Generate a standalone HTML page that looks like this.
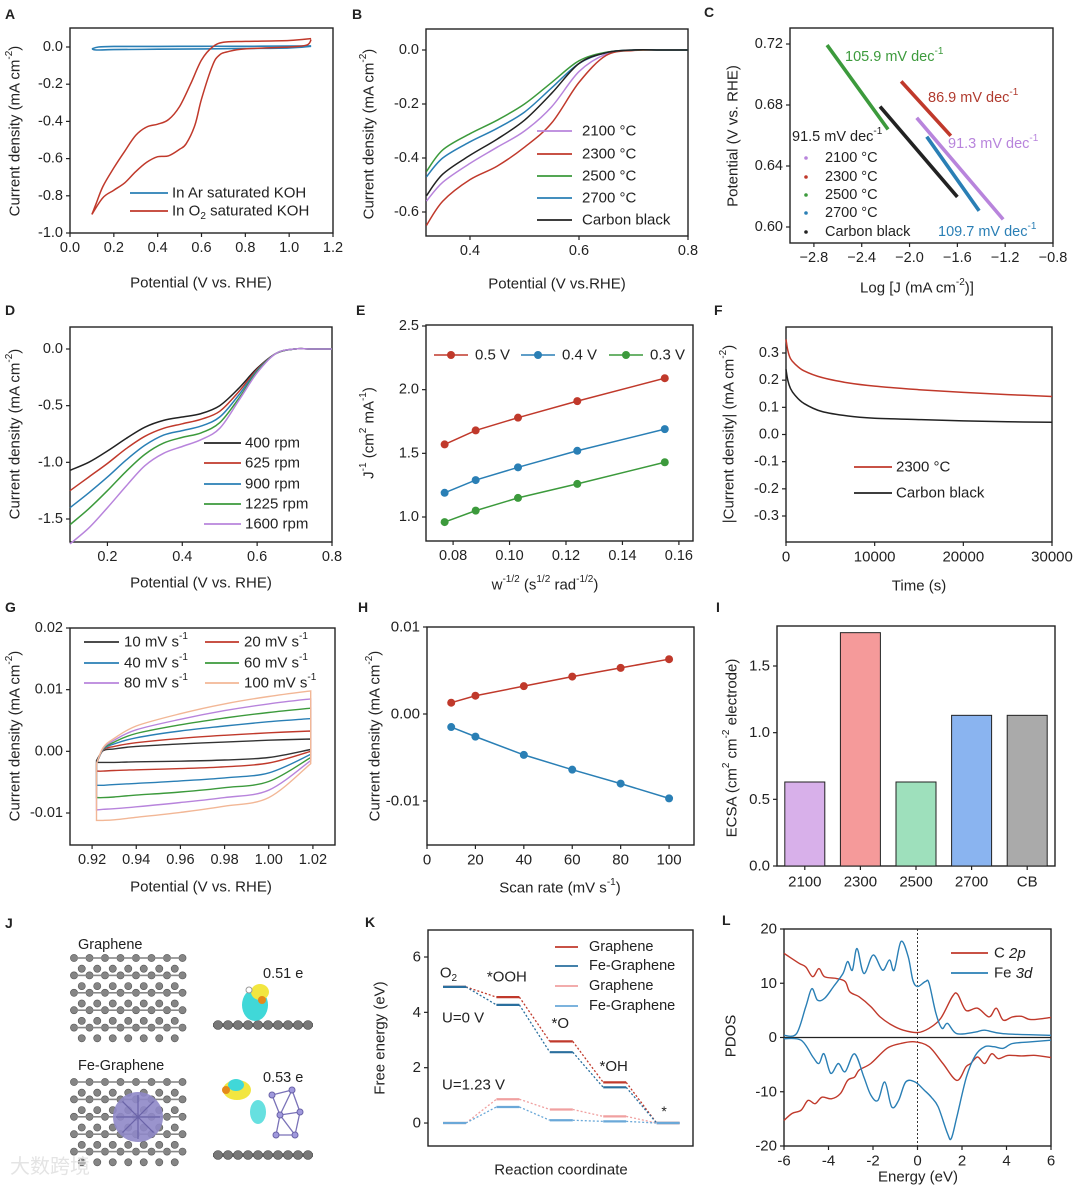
<!DOCTYPE html>
<html><head><meta charset="utf-8"><title>Electrocatalysis figure A-L</title>
<style>
html,body{margin:0;padding:0;background:#fff;}
svg{display:block;font-family:"Liberation Sans","Noto Sans CJK SC",sans-serif;}
</style></head>
<body>
<svg id="fig" width="1080" height="1189" viewBox="0 0 1080 1189" xmlns="http://www.w3.org/2000/svg"></svg>
<script>
// ---------------- DATA ----------------
// A
const A_ar_up_x=[0.1,0.13,0.2,0.4,0.6,0.8,1.0,1.1];
const A_ar_up_y=[-0.01,0.0,0.003,0.003,0.004,0.004,0.005,0.006];
const A_ar_dn_x=[1.1,1.0,0.8,0.6,0.4,0.2,0.12,0.1];
const A_ar_dn_y=[0.004,-0.005,-0.008,-0.01,-0.012,-0.014,-0.016,-0.01];
const A_o2_an_x=[0.1,0.12,0.15,0.2,0.25,0.3,0.35,0.4,0.45,0.5,0.55,0.6,0.65,0.7,0.8,1.0,1.1];
const A_o2_an_y=[-0.9,-0.84,-0.75,-0.65,-0.56,-0.475,-0.43,-0.415,-0.39,-0.32,-0.2,-0.07,0.0,0.025,0.03,0.035,0.045];
const A_o2_ca_x=[1.1,1.08,1.0,0.8,0.72,0.68,0.65,0.6,0.57,0.53,0.5,0.45,0.4,0.35,0.3,0.25,0.2,0.15,0.1];
const A_o2_ca_y=[0.04,0.01,0.0,-0.01,-0.025,-0.045,-0.1,-0.28,-0.42,-0.52,-0.55,-0.585,-0.59,-0.62,-0.67,-0.73,-0.77,-0.81,-0.9];
// B
const B_x=[0.32,0.35,0.4,0.45,0.5,0.55,0.6,0.65,0.7,0.75,0.8];
const B_2100=[-0.56,-0.49,-0.42,-0.36,-0.30,-0.21,-0.08,-0.015,0,0,0];
const B_2300=[-0.65,-0.56,-0.48,-0.43,-0.36,-0.27,-0.12,-0.02,-0.002,0,0];
const B_2500=[-0.45,-0.37,-0.31,-0.26,-0.20,-0.12,-0.04,-0.008,0,0,0];
const B_2700=[-0.47,-0.40,-0.34,-0.29,-0.23,-0.14,-0.05,-0.01,0,0,0];
const B_cb=[-0.54,-0.46,-0.39,-0.33,-0.26,-0.16,-0.05,-0.01,0,0,0];
const B_labels=["2100 °C","2300 °C","2500 °C","2700 °C","Carbon black"];
// C  (start/end of Tafel segments)
const C_x1=[-1.94,-2.07,-2.69,-1.856,-2.247];
const C_y1=[0.6716,0.6955,0.7193,0.6592,0.6790];
const C_x2=[-1.217,-1.655,-2.18,-1.418,-1.60];
const C_y2=[0.6050,0.6598,0.6640,0.6106,0.6197];
const C_slopes=["91.3","86.9","105.9","109.7","91.5"];
// D
const D_x=[0.1,0.15,0.2,0.25,0.3,0.35,0.4,0.45,0.5,0.55,0.6,0.65,0.7,0.75,0.8];
const D_400=[-1.07,-1.0,-0.9,-0.79,-0.69,-0.63,-0.6,-0.57,-0.5,-0.35,-0.17,-0.04,0,0,0];
const D_625=[-1.25,-1.13,-1.01,-0.88,-0.77,-0.7,-0.66,-0.62,-0.55,-0.38,-0.18,-0.04,0,0,0];
const D_900=[-1.40,-1.27,-1.13,-0.98,-0.85,-0.76,-0.72,-0.68,-0.6,-0.41,-0.19,-0.04,0,0,0];
const D_1225=[-1.55,-1.41,-1.25,-1.08,-0.93,-0.83,-0.78,-0.74,-0.65,-0.44,-0.2,-0.04,0,0,0];
const D_1600=[-1.72,-1.58,-1.40,-1.21,-1.03,-0.92,-0.86,-0.80,-0.7,-0.46,-0.21,-0.04,0,0,0];
const D_labels=["400 rpm","625 rpm","900 rpm","1225 rpm","1600 rpm"];
// E
const E_x=[0.077,0.088,0.103,0.124,0.155];
const E_05=[1.57,1.68,1.78,1.91,2.09];
const E_04=[1.19,1.29,1.39,1.52,1.69];
const E_03=[0.96,1.05,1.15,1.26,1.43];
// F
const F_t=[0,200,500,1000,2000,4000,7000,10000,15000,20000,25000,30000];
const F_2300=[0.35,0.31,0.28,0.26,0.235,0.21,0.19,0.178,0.165,0.155,0.147,0.14];
const F_cb=[0.24,0.2,0.17,0.145,0.115,0.085,0.068,0.06,0.055,0.05,0.047,0.045];
// G
const G_x=[0.922,0.925,0.93,0.94,0.96,0.98,1.00,1.019];
const G_up10=[-0.0015,0.0001,0.0004,0.0008,0.0012,0.0015,0.0018,0.0020];
const G_lo10=[-0.0018,-0.0018,-0.0018,-0.0017,-0.0016,-0.0014,-0.0010,0.0003];
const G_up20=[-0.0020,0.0002,0.0008,0.0014,0.0021,0.0026,0.0030,0.0033];
const G_lo20=[-0.0032,-0.0032,-0.0031,-0.0030,-0.0028,-0.0025,-0.0019,0.0000];
const G_up40=[-0.0020,0.0003,0.0012,0.0022,0.0033,0.0041,0.0048,0.0053];
const G_lo40=[-0.0055,-0.0055,-0.0054,-0.0052,-0.0048,-0.0043,-0.0035,-0.0005];
const G_up60=[-0.0020,0.0004,0.0015,0.0029,0.0043,0.0054,0.0063,0.0070];
const G_lo60=[-0.0075,-0.0075,-0.0074,-0.0071,-0.0066,-0.0059,-0.0049,-0.0010];
const G_up80=[-0.0020,0.0005,0.0018,0.0035,0.0052,0.0066,0.0077,0.0085];
const G_lo80=[-0.0095,-0.0094,-0.0093,-0.0090,-0.0083,-0.0075,-0.0063,-0.0015];
const G_up100=[-0.0020,0.0006,0.0021,0.0041,0.0061,0.0077,0.0089,0.0098];
const G_lo100=[-0.0112,-0.0112,-0.0111,-0.0107,-0.0099,-0.0089,-0.0075,-0.0020];
const G_labels=["10","20","40","60","80","100"];
// H
const H_x=[10,20,40,60,80,100];
const H_anodic=[0.0013,0.0021,0.0032,0.0043,0.0053,0.0063];
const H_cathodic=[-0.0015,-0.0026,-0.0047,-0.0064,-0.0080,-0.0097];
// I
const I_cats=["2100","2300","2500","2700","CB"];
const I_vals=[0.63,1.75,0.63,1.13,1.13];
// K
const K_steps=["O2","*OOH","*O","*OH","*"];
const K_gr_0=[4.92,4.55,2.95,1.47,0];
const K_fe_0=[4.92,4.27,2.56,1.29,0];
const K_gr_123=[0,0.86,0.49,0.24,0];
const K_fe_123=[0,0.58,0.10,0.06,0];
// L
const L_c_up_x=[-6,-5.33,-5.02,-4.71,-4.43,-4.18,-3.66,-3.25,-3.04,-2.62,-2.10,-1.68,-1.16,-0.64,0,0.52,1.04,1.56,1.80,2.18,2.70,3.22,3.54,3.85,4.27,4.68,5.10,6];
const L_c_up_y=[15.5,13.7,13,11.2,12.7,11.2,10.9,10.3,8.4,7.5,5.7,3.8,2.3,1.35,0.9,1.7,3.5,7.5,8,5,5.4,3.8,5.4,3.2,3.8,3.9,3.3,3.7];
const L_fe_up_x=[-6,-5.44,-5.02,-4.75,-4.50,-4.18,-3.77,-3.35,-3.14,-2.93,-2.72,-2.41,-1.99,-1.57,-1.26,-1.05,-0.74,-0.42,-0.21,0,0.35,0.52,0.83,1.10,1.35,1.77,2.60,3.02,3.85,6];
const L_fe_up_y=[0.4,0.7,5.7,9,6.9,7.2,9.4,11.8,14,12.4,16.4,11.8,15.2,12.4,14.3,12.4,17.7,14.9,10.6,9.4,10.3,10,4.4,1.7,2.6,0.7,1,1.35,0.7,0.4];
const L_c_dn_x=[-6,-5.64,-5.23,-4.92,-4.60,-4.29,-3.87,-3.46,-3.14,-2.83,-2.62,-2.10,-1.37,-0.75,-0.13,0.52,1.14,1.77,2.18,2.39,2.70,3.02,3.33,3.64,4.06,4.68,5.31,6];
const L_c_dn_y=[-15.3,-14,-13.4,-11.6,-12.2,-11,-11.3,-10.3,-7.9,-7.3,-6,-4.8,-2,-1.1,-0.8,-1.7,-4.8,-7.9,-5.4,-4.8,-3.6,-4.8,-3,-3.9,-3.3,-3.4,-3.3,-3.7];
const L_fe_dn_x=[-6,-5.23,-4.7,-4.43,-4.2,-3.9,-3.56,-3.25,-2.83,-2.41,-2.1,-1.78,-1.47,-1.16,-0.85,-0.53,-0.11,0.3,0.62,0.93,1.35,1.52,1.77,2.2,2.6,3.02,3.44,3.85,4.27,5.1,6];
const L_fe_dn_y=[-0.2,-0.5,-3.6,-4.8,-3,-6.6,-4.8,-6.3,-3,-7.3,-10.6,-11.6,-8.2,-12.8,-11.6,-8.2,-8.2,-9.7,-11,-12.8,-17.7,-18.6,-14.6,-7.3,-3.3,-1.7,-1.7,-2,-1.1,-0.8,-0.5];

// ---------------- HELPERS ----------------
const NS="http://www.w3.org/2000/svg";
const svg=document.getElementById('fig');
function el(tag,attrs,parent,name,inter){
  const e=document.createElementNS(NS,tag);
  for(const k in attrs) e.setAttribute(k,attrs[k]);
  
  
  (parent||svg).appendChild(e);
  return e;
}
function txt(x,y,s,opt,parent,name){
  opt=opt||{};
  const t=el('text',{x:x,y:y,'font-size':opt.fs||14.5,fill:opt.fill||'#222','text-anchor':opt.anchor||'middle','dominant-baseline':'central','font-weight':opt.fw||'normal','font-style':opt.fst||'normal'},parent,name||'label');
  if(opt.rot) t.setAttribute('transform','rotate('+opt.rot+' '+x+' '+y+')');
  t.innerHTML=s;
  return t;
}
const SUP=s=>'<tspan baseline-shift="super" font-size="10">'+s+'</tspan>';
const SUB=s=>'<tspan baseline-shift="sub" font-size="10">'+s+'</tspan>';
function panel(name,x0,x1,y0,y1,xd,yd){
  const g=el('g',{},svg,name);
  const p={g:g,x0:x0,x1:x1,y0:y0,y1:y1,
    X:v=>x0+(v-xd[0])/(xd[1]-xd[0])*(x1-x0),
    Y:v=>y1-(v-yd[0])/(yd[1]-yd[0])*(y1-y0)};
  return p;
}
// linear map helper from two reference pixels
function lin(v1,p1,v2,p2,pix){return v1+(pix-p1)*(v2-v1)/(p2-p1);}
function frame(p){
  el('rect',{x:p.x0,y:p.y0,width:p.x1-p.x0,height:p.y1-p.y0,fill:'none',stroke:'#222','stroke-width':1.4},p.g,'plot-frame');
}
function xticks(p,vals,labels,fs){
  vals.forEach((v,i)=>{
    const x=p.X(v);
    el('line',{x1:x,x2:x,y1:p.y1,y2:p.y1+4,stroke:'#222','stroke-width':1.2},p.g,'x-tick');
    txt(x,p.y1+15,labels[i],{fs:fs||14.5},p.g,'x-tick-label');
  });
}
function yticks(p,vals,labels,fs){
  vals.forEach((v,i)=>{
    const y=p.Y(v);
    el('line',{x1:p.x0-4,x2:p.x0,y1:y,y2:y,stroke:'#222','stroke-width':1.2},p.g,'y-tick');
    txt(p.x0-7,y,labels[i],{fs:fs||14.5,anchor:'end'},p.g,'y-tick-label');
  });
}
function smooth(pts){
  let d='M'+pts[0][0].toFixed(1)+','+pts[0][1].toFixed(1);
  for(let i=0;i<pts.length-1;i++){
    const p0=pts[Math.max(0,i-1)],p1=pts[i],p2=pts[i+1],p3=pts[Math.min(pts.length-1,i+2)];
    const c1=[p1[0]+(p2[0]-p0[0])/6,p1[1]+(p2[1]-p0[1])/6];
    const c2=[p2[0]-(p3[0]-p1[0])/6,p2[1]-(p3[1]-p1[1])/6];
    d+='C'+c1[0].toFixed(1)+','+c1[1].toFixed(1)+' '+c2[0].toFixed(1)+','+c2[1].toFixed(1)+' '+p2[0].toFixed(1)+','+p2[1].toFixed(1);
  }
  return d;
}
function series(p,xs,ys,color,name,w){
  const pts=xs.map((x,i)=>[p.X(x),p.Y(ys[i])]);
  return el('path',{d:smooth(pts),fill:'none',stroke:color,'stroke-width':w||1.5,'stroke-linejoin':'round'},p.g,name);
}
function legendLine(g,x1,x2,y,color,label,tx,name,fs){
  const lg=el('g',{},g,name);
  el('line',{x1:x1,x2:x2,y1:y,y2:y,stroke:color,'stroke-width':1.8},lg,'legend-swatch');
  txt(tx,y,label,{fs:fs||15,anchor:'start'},lg,'legend-text');
}
function letter(x,y,s){ txt(x,y,s,{fs:14,fw:'bold',anchor:'start'},svg,'panel-letter-'+s.toLowerCase()); }
const RED='#c0392b',BLUE='#2a7fb5',GREEN='#3c9a3c',PURP='#b884dc',BLK='#222';

// ---------------- PANEL A ----------------
letter(5,14,'A');
(function(){
  const top=28,bot=233;
  const p=panel('panel-a',70,333,top,bot,[0,1.2],[lin(0,47,-1,233,bot),lin(0,47,-1,233,top)]);
  frame(p);
  series(p,A_ar_up_x,A_ar_up_y,BLUE,'ar-cv-forward',1.6);
  series(p,A_ar_dn_x,A_ar_dn_y,BLUE,'ar-cv-reverse',1.6);
  series(p,A_o2_an_x,A_o2_an_y,RED,'o2-cv-anodic',1.5);
  series(p,A_o2_ca_x,A_o2_ca_y,RED,'o2-cv-cathodic',1.5);
  xticks(p,[0,0.2,0.4,0.6,0.8,1.0,1.2],['0.0','0.2','0.4','0.6','0.8','1.0','1.2']);
  yticks(p,[0,-0.2,-0.4,-0.6,-0.8,-1.0],['0.0','-0.2','-0.4','-0.6','-0.8','-1.0']);
  legendLine(p.g,130,168,193,BLUE,'In Ar saturated KOH',172,'legend-entry-ar');
  legendLine(p.g,130,168,211,RED,'In O'+SUB('2')+' saturated KOH',172,'legend-entry-o2');
  txt(201,283,'Potential (V vs. RHE)',{fs:15},p.g,'x-axis-title');
  txt(15,131,'Current density (mA cm'+SUP('-2')+')',{fs:15,rot:-90},p.g,'y-axis-title');
})();

// ---------------- PANEL B ----------------
letter(352,14,'B');
(function(){
  const top=29,bot=236;
  const p=panel('panel-b',426,688,top,bot,[0.3193,0.8],[lin(0,50,-0.6,212,bot),lin(0,50,-0.6,212,top)]);
  frame(p);
  const ser=[B_2100,B_2300,B_2500,B_2700,B_cb], cols=[PURP,RED,GREEN,BLUE,BLK];
  const ids=['2100','2300','2500','2700','carbon-black'];
  ser.forEach((s,i)=>series(p,B_x,s,cols[i],'lsv-'+ids[i],1.5));
  xticks(p,[0.4,0.6,0.8],['0.4','0.6','0.8']);
  yticks(p,[0,-0.2,-0.4,-0.6],['0.0','-0.2','-0.4','-0.6']);
  [131,154,176,198,220].forEach((y,i)=>legendLine(p.g,537,572,y,cols[i],B_labels[i],582,'legend-entry-'+ids[i]));
  txt(557,284,'Potential (V vs.RHE)',{fs:15},p.g,'x-axis-title');
  txt(369,134,'Current density (mA cm'+SUP('-2')+')',{fs:15,rot:-90},p.g,'y-axis-title');
})();

// ---------------- PANEL C ----------------
letter(704,12,'C');
(function(){
  const p=panel('panel-c',790,1053,28,243,[-3.0,-0.8],[lin(0.72,44,0.60,227,243),lin(0.72,44,0.60,227,28)]);
  frame(p);
  const cols=[PURP,RED,GREEN,BLUE,BLK], ids=['2100','2300','2500','2700','carbon-black'];
  C_x1.forEach((x,i)=>el('line',{x1:p.X(x),y1:p.Y(C_y1[i]),x2:p.X(C_x2[i]),y2:p.Y(C_y2[i]),stroke:cols[i],'stroke-width':3.6},p.g,'tafel-line-'+ids[i]));
  xticks(p,[-2.8,-2.4,-2.0,-1.6,-1.2,-0.8],['−2.8','−2.4','−2.0','−1.6','−1.2','−0.8']);
  yticks(p,[0.60,0.64,0.68,0.72],['0.60','0.64','0.68','0.72']);
  const ann=[[948,144,PURP],[928,98,'#b03a2e'],[845,57,GREEN],[938,232,BLUE],[792,137,BLK]];
  ann.forEach((a,i)=>txt(a[0],a[1],C_slopes[i]+' mV dec'+SUP('-1'),{fs:14.5,fill:a[2],anchor:'start'},p.g,'tafel-slope-'+ids[i]));
  [158,177,195,213,232].forEach((y,i)=>{
    const lg=el('g',{},p.g,'legend-entry-'+ids[i]);
    el('circle',{cx:806,cy:y,r:1.8,fill:cols[i]},lg,'legend-marker');
    txt(825,y,B_labels[i],{fs:14.5,anchor:'start'},lg,'legend-text');
  });
  txt(917,288,'Log [J (mA cm'+SUP('-2')+')]',{fs:15},p.g,'x-axis-title');
  txt(733,136,'Potential (V vs. RHE)',{fs:15,rot:-90},p.g,'y-axis-title');
})();

// ---------------- PANEL D ----------------
letter(5,310,'D');
(function(){
  const top=327,bot=542;
  const p=panel('panel-d',70,332,top,bot,[0.1,0.8],[lin(0,349,-1.5,519,bot),lin(0,349,-1.5,519,top)]);
  frame(p);
  const ser=[D_400,D_625,D_900,D_1225,D_1600], cols=[BLK,RED,BLUE,GREEN,PURP];
  ser.forEach((s,i)=>series(p,D_x,s,cols[i],'lsv-'+D_labels[i].replace(' ','-'),1.5));
  xticks(p,[0.2,0.4,0.6,0.8],['0.2','0.4','0.6','0.8']);
  yticks(p,[0,-0.5,-1.0,-1.5],['0.0','-0.5','-1.0','-1.5']);
  [443,463,484,504,524].forEach((y,i)=>legendLine(p.g,204,241,y,cols[i],D_labels[i],245,'legend-entry-'+D_labels[i].replace(' ','-')));
  txt(201,583,'Potential (V vs. RHE)',{fs:15},p.g,'x-axis-title');
  txt(15,434,'Current density (mA cm'+SUP('-2')+')',{fs:15,rot:-90},p.g,'y-axis-title');
})();

// ---------------- PANEL E ----------------
letter(356,310,'E');
(function(){
  const top=325,bot=541;
  const p=panel('panel-e',426,693,top,bot,[0.0704,0.165],[lin(2.5,326,1.0,517,bot),lin(2.5,326,1.0,517,top)]);
  frame(p);
  const ser=[E_05,E_04,E_03], cols=[RED,BLUE,GREEN], ids=['0.5V','0.4V','0.3V'];
  ser.forEach((s,i)=>{
    el('polyline',{points:E_x.map((x,j)=>p.X(x)+','+p.Y(s[j])).join(' '),fill:'none',stroke:cols[i],'stroke-width':1.5},p.g,'koutecky-line-'+ids[i]);
    E_x.forEach((x,j)=>el('circle',{cx:p.X(x),cy:p.Y(s[j]),r:4,fill:cols[i]},p.g,'point-'+ids[i]));
  });
  xticks(p,[0.08,0.10,0.12,0.14,0.16],['0.08','0.10','0.12','0.14','0.16']);
  yticks(p,[1.0,1.5,2.0,2.5],['1.0','1.5','2.0','2.5']);
  const L=[[434,468,475,'0.5 V'],[521,555,562,'0.4 V'],[609,643,650,'0.3 V']];
  L.forEach((l,i)=>{
    const lg=el('g',{},p.g,'legend-entry-'+ids[i]);
    el('line',{x1:l[0],x2:l[1],y1:355,y2:355,stroke:cols[i],'stroke-width':1.5},lg,'legend-swatch');
    el('circle',{cx:(l[0]+l[1])/2,cy:355,r:4,fill:cols[i]},lg,'legend-marker');
    txt(l[2],355,l[3],{fs:15,anchor:'start'},lg,'legend-text');
  });
  txt(545,585,'w'+SUP('-1/2')+' (s'+SUP('1/2')+' rad'+SUP('-1/2')+')',{fs:15},p.g,'x-axis-title');
  txt(369,433,'J'+SUP('-1')+' (cm'+SUP('2')+' mA'+SUP('-1')+')',{fs:15,rot:-90},p.g,'y-axis-title');
})();

// ---------------- PANEL F ----------------
letter(714,310,'F');
(function(){
  const top=327,bot=542;
  const p=panel('panel-f',786,1052,top,bot,[0,30000],[lin(0.3,353,-0.3,516,bot),lin(0.3,353,-0.3,516,top)]);
  frame(p);
  series(p,F_t,F_2300,RED,'chrono-2300',1.5);
  series(p,F_t,F_cb,BLK,'chrono-carbon-black',1.5);
  xticks(p,[0,10000,20000,30000],['0','10000','20000','30000'],15);
  yticks(p,[-0.3,-0.2,-0.1,0,0.1,0.2,0.3],['-0.3','-0.2','-0.1','0.0','0.1','0.2','0.3']);
  legendLine(p.g,854,892,467,RED,'2300 °C',896,'legend-entry-2300');
  legendLine(p.g,854,892,493,BLK,'Carbon black',896,'legend-entry-carbon-black');
  txt(919,586,'Time (s)',{fs:15},p.g,'x-axis-title');
  txt(729,434,'|Current density| (mA cm'+SUP('-2')+')',{fs:15,rot:-90},p.g,'y-axis-title');
})();

// ---------------- PANEL G ----------------
letter(5,607,'G');
(function(){
  const top=628,bot=845;
  const p=panel('panel-g',70,335,top,bot,[0.91,1.03],[lin(0.02,628,-0.01,813,bot),lin(0.02,628,-0.01,813,top)]);
  frame(p);
  const ups=[G_up10,G_up20,G_up40,G_up60,G_up80,G_up100], los=[G_lo10,G_lo20,G_lo40,G_lo60,G_lo80,G_lo100];
  const cols=['#333',RED,BLUE,GREEN,PURP,'#f2b796'];
  ups.forEach((u,i)=>{
    const up=G_x.map((x,j)=>[p.X(x),p.Y(u[j])]);
    const lo=G_x.map((x,j)=>[p.X(x),p.Y(los[i][j])]).reverse();
    const sl=smooth(lo);
    const d=smooth(up)+'L'+lo[0][0].toFixed(1)+','+lo[0][1].toFixed(1)+sl.slice(sl.indexOf('C'))+'Z';
    el('path',{d:d,fill:'none',stroke:cols[i],'stroke-width':1.4},p.g,'cv-'+G_labels[i]+'-mV');
  });
  xticks(p,[0.92,0.94,0.96,0.98,1.00,1.02],['0.92','0.94','0.96','0.98','1.00','1.02']);
  yticks(p,[-0.01,0,0.01,0.02],['-0.01','0.00','0.01','0.02']);
  const pos=[[84,119,124,642],[205,239,244,642],[84,119,124,663],[205,239,244,663],[84,119,124,683],[205,239,244,683]];
  pos.forEach((q,i)=>legendLine(p.g,q[0],q[1],q[3],cols[i],G_labels[i]+' mV s'+SUP('-1'),q[2],'legend-entry-'+G_labels[i]));
  txt(201,887,'Potential (V vs. RHE)',{fs:15},p.g,'x-axis-title');
  txt(15,736,'Current density (mA cm'+SUP('-2')+')',{fs:15,rot:-90},p.g,'y-axis-title');
})();

// ---------------- PANEL H ----------------
letter(358,607,'H');
(function(){
  const top=627,bot=845;
  const p=panel('panel-h',427,694,top,bot,[0,110.3],[lin(0.01,627,-0.01,801,bot),lin(0.01,627,-0.01,801,top)]);
  frame(p);
  [[H_anodic,RED,'anodic'],[H_cathodic,BLUE,'cathodic']].forEach(s=>{
    el('polyline',{points:H_x.map((x,j)=>p.X(x)+','+p.Y(s[0][j])).join(' '),fill:'none',stroke:s[1],'stroke-width':1.5},p.g,'fit-line-'+s[2]);
    H_x.forEach((x,j)=>el('circle',{cx:p.X(x),cy:p.Y(s[0][j]),r:4,fill:s[1]},p.g,'point-'+s[2]));
  });
  xticks(p,[0,20,40,60,80,100],['0','20','40','60','80','100'],15);
  yticks(p,[-0.01,0,0.01],['-0.01','0.00','0.01'],15);
  txt(560,888,'Scan rate (mV s'+SUP('-1')+')',{fs:15},p.g,'x-axis-title');
  txt(375,736,'Current density (mA cm'+SUP('-2')+')',{fs:15,rot:-90},p.g,'y-axis-title');
})();

// ---------------- PANEL I ----------------
letter(716,607,'I');
(function(){
  const top=626,bot=866;
  const p=panel('panel-i',777,1055,top,bot,[0,5],[0,lin(0,866,1.5,666,top)]);
  frame(p);
  const cols=['#d8b0ea','#f59a9a','#9ee0bc','#8ab4f0','#aaaaaa'];
  I_cats.forEach((c,i)=>{
    const cx=p.X(i+0.5);
    el('rect',{x:cx-20,y:p.Y(I_vals[i]),width:40,height:p.Y(0)-p.Y(I_vals[i]),fill:cols[i],stroke:'#222','stroke-width':1},p.g,'bar-'+c.toLowerCase());
    el('line',{x1:cx,x2:cx,y1:p.y1,y2:p.y1+4,stroke:'#222','stroke-width':1.2},p.g,'x-tick');
    txt(cx,p.y1+16,c,{fs:15},p.g,'x-tick-label');
  });
  yticks(p,[0,0.5,1.0,1.5],['0.0','0.5','1.0','1.5'],15);
  txt(732,748,'ECSA  (cm'+SUP('2')+' cm'+SUP('-2')+' electrode)',{fs:15,rot:-90},p.g,'y-axis-title');
})();

// ---------------- PANEL J ----------------
letter(5,923,'J');
(function(){
  const g=el('g',{},svg,'panel-j');
  txt(78,945,'Graphene',{fs:14.5,anchor:'start'},g,'graphene-label');
  txt(78,1066,'Fe-Graphene',{fs:14.5,anchor:'start'},g,'fe-graphene-label');
  txt(263,974,'0.51 e',{fs:14.5,anchor:'start'},g,'charge-graphene');
  txt(263,1078,'0.53 e',{fs:14.5,anchor:'start'},g,'charge-fe-graphene');
  function lattice(x0,y0,w,h,name){
    const lg=el('g',{},g,name);
    const a=15.5, b=8.7;
    for(let r=0;r*b<=h;r++){
      for(let c=0;c*a<=w+a;c++){
        const ox=(r%2? a/2:0);
        const x=x0+c*a+ox, y=y0+r*b;
        if(x>x0+w) continue;
        el('circle',{cx:x,cy:y+((r%2)?2:0),r:3.6,fill:'#858585',stroke:'#555','stroke-width':0.6},lg,'carbon-atom');
        if(c>0 && r%2===0) el('line',{x1:x-a+2,x2:x-2,y1:y,y2:y,stroke:'#888','stroke-width':1.6},lg,'bond');
      }
    }
  }
  lattice(74,958,114,84,'graphene-top-view');
  lattice(74,1082,114,80,'fe-graphene-top-view');
  const fe=el('g',{},g,'fe-cluster');
  el('circle',{cx:138,cy:1117,r:25,fill:'#8f88c8',opacity:0.9},fe,'fe-cluster-body');
  for(let k=0;k<8;k++){const an=k*Math.PI/4;el('line',{x1:138,y1:1117,x2:138+22*Math.cos(an),y2:1117+22*Math.sin(an),stroke:'#6a63a8','stroke-width':1.2},fe,'fe-bond');}
  function sideRow(y,name){
    const sg=el('g',{},g,name);
    el('rect',{x:213,y:y-2,width:100,height:4,fill:'#888'},sg,'sheet');
    for(let k=0;k<10;k++) el('circle',{cx:218+k*10,cy:y,r:4.5,fill:'#777',stroke:'#444','stroke-width':0.6},sg,'carbon-atom');
  }
  sideRow(1025,'graphene-side-view');
  sideRow(1155,'fe-graphene-side-view');
  const d1=el('g',{},g,'charge-density-graphene');
  el('ellipse',{cx:255,cy:1005,rx:13,ry:16,fill:'#40d8d8'},d1,'depletion');
  el('ellipse',{cx:260,cy:992,rx:9,ry:8,fill:'#f2e640'},d1,'accumulation');
  el('circle',{cx:262,cy:1000,r:4,fill:'#e58a1a'},d1,'oxygen-atom');
  el('circle',{cx:249,cy:990,r:3,fill:'#fff',stroke:'#999'},d1,'hydrogen-atom');
  const d2=el('g',{},g,'charge-density-fe-graphene');
  const pts=[[272,1095],[292,1090],[280,1115],[300,1112],[276,1135],[295,1135]];
  pts.forEach((a,i)=>pts.forEach((b,j)=>{if(j>i&&Math.hypot(a[0]-b[0],a[1]-b[1])<30)el('line',{x1:a[0],y1:a[1],x2:b[0],y2:b[1],stroke:'#7a72b8','stroke-width':1.3},d2,'fe-bond');}));
  pts.forEach(a=>el('circle',{cx:a[0],cy:a[1],r:3,fill:'#a099dd',stroke:'#6a63a8'},d2,'fe-atom'));
  el('ellipse',{cx:237,cy:1090,rx:14,ry:10,fill:'#f2e640'},d2,'accumulation');
  el('ellipse',{cx:236,cy:1085,rx:8,ry:6,fill:'#40d8d8'},d2,'depletion');
  el('circle',{cx:226,cy:1090,r:4,fill:'#e58a1a'},d2,'oxygen-atom');
  el('ellipse',{cx:258,cy:1112,rx:8,ry:12,fill:'#40d8d8',opacity:0.8},d2,'depletion');
  txt(10,1167,'大数跨境',{fs:20,fill:'#e4e4e4',anchor:'start'},g,'watermark');
})();

// ---------------- PANEL K ----------------
letter(365,922,'K');
(function(){
  const p=panel('panel-k',428,693,930,1146,[-0.496,4.466],[-0.83,6.976]);
  frame(p);
  const hw=0.215;
  const sets=[[K_gr_0,'#c0392b','graphene-u0'],[K_fe_0,'#2a6f9e','fe-graphene-u0'],[K_gr_123,'#f0a0a0','graphene-u123'],[K_fe_123,'#6aa8d8','fe-graphene-u123']];
  sets.forEach(s=>{
    s[0].forEach((v,i)=>{
      el('line',{x1:p.X(i-hw),x2:p.X(i+hw),y1:p.Y(v),y2:p.Y(v),stroke:s[1],'stroke-width':2.2},p.g,'level-'+s[2]);
      if(i<4) el('line',{x1:p.X(i+hw),x2:p.X(i+1-hw),y1:p.Y(v),y2:p.Y(s[0][i+1]),stroke:s[1],'stroke-width':1.3,'stroke-dasharray':'2,2'},p.g,'connector-'+s[2]);
    });
  });
  yticks(p,[0,2,4,6],['0','2','4','6'],15);
  txt(p.X(0)-6,p.Y(K_gr_0[0])-14,'O'+SUB('2'),{fs:15},p.g,'step-label-o2');
  txt(p.X(1)-1,p.Y(K_gr_0[1])-20,'*OOH',{fs:15},p.g,'step-label-ooh');
  txt(p.X(2)-1,p.Y(K_gr_0[2])-18,'*O',{fs:15},p.g,'step-label-o');
  txt(p.X(3)-1,p.Y(K_gr_0[3])-16,'*OH',{fs:15},p.g,'step-label-oh');
  txt(p.X(4)-4,p.Y(0)-12,'*',{fs:14},p.g,'step-label-star');
  txt(442,1018,'U=0 V',{fs:15,anchor:'start'},p.g,'potential-label-0v');
  txt(442,1085,'U=1.23 V',{fs:15,anchor:'start'},p.g,'potential-label-123v');
  const lab=['Graphene','Fe-Graphene','Graphene','Fe-Graphene'];
  [947,966,986,1006].forEach((y,i)=>legendLine(p.g,555,578,y,sets[i][1],lab[i],589,'legend-entry-'+sets[i][2],14.5));
  txt(561,1170,'Reaction coordinate',{fs:15},p.g,'x-axis-title');
  txt(380,1038,'Free energy (eV)',{fs:15,rot:-90},p.g,'y-axis-title');
})();

// ---------------- PANEL L ----------------
letter(722,920,'L');
(function(){
  const p=panel('panel-l',784,1051,929,1146,[-6,6],[-20,20]);
  frame(p);
  el('line',{x1:p.x0,x2:p.x1,y1:p.Y(0),y2:p.Y(0),stroke:'#222','stroke-width':1.3},p.g,'zero-line');
  el('line',{x1:p.X(0),x2:p.X(0),y1:p.y0,y2:p.y1,stroke:'#333','stroke-width':1,'stroke-dasharray':'2,2'},p.g,'fermi-level-line');
  series(p,L_c_up_x,L_c_up_y,RED,'c-2p-spin-up',1.4);
  series(p,L_c_dn_x,L_c_dn_y,RED,'c-2p-spin-down',1.4);
  series(p,L_fe_up_x,L_fe_up_y,BLUE,'fe-3d-spin-up',1.4);
  series(p,L_fe_dn_x,L_fe_dn_y,BLUE,'fe-3d-spin-down',1.4);
  xticks(p,[-6,-4,-2,0,2,4,6],['-6','-4','-2','0','2','4','6'],15);
  yticks(p,[-20,-10,0,10,20],['-20','-10','0','10','20'],15);
  legendLine(p.g,951,988,953,RED,'C   <tspan font-style="italic">2p</tspan>',994,'legend-entry-c-2p');
  legendLine(p.g,951,988,973,BLUE,'Fe <tspan font-style="italic">3d</tspan>',994,'legend-entry-fe-3d');
  txt(918,1177,'Energy (eV)',{fs:15},p.g,'x-axis-title');
  txt(731,1036,'PDOS',{fs:15,rot:-90},p.g,'y-axis-title');
})();
</script>
</body></html>
